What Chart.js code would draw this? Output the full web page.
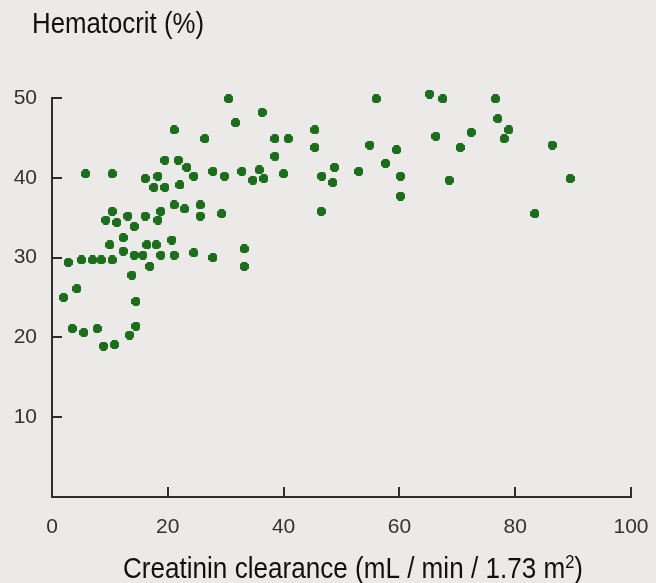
<!DOCTYPE html>
<html>
<head>
<meta charset="utf-8">
<script src="https://cdn.jsdelivr.net/npm/chart.js@4.4.1/dist/chart.umd.min.js"></script>
<style>
  html, body { margin: 0; padding: 0; background: #ece9e9; }
  #wrap { width: 656px; height: 583px; position: relative; }
</style>
</head>
<body>
<div id="wrap"><canvas id="chart"></canvas></div>
<script>
// creatinin clearance (mL/min/1.73 m2)
const clearance = [
    38.1, 30.5, 36.3, 31.7, 21.1, 26.4, 38.5, 40.8, 38.5, 19.5,
    21.8, 23.3, 24.5, 27.8, 29.8, 32.8, 35.8, 34.7, 36.6, 40.0,
    5.8, 10.4, 16.1, 18.3, 17.6, 19.5, 22.1, 21.1, 22.9, 25.6,
    25.6, 29.3, 10.4, 9.3, 11.2, 13.1, 16.1, 18.8, 18.3, 14.2,
    12.3, 10.0, 12.3, 16.4, 18.0, 20.7, 14.2, 15.7, 18.8, 21.1,
    24.5, 27.8, 33.2, 33.2, 16.9, 13.8, 2.8, 5.1, 7.0, 8.5,
    10.4, 4.3, 2.0, 14.5, 3.5, 5.5, 7.8, 14.5, 13.4, 8.9,
    10.8, 56.0, 65.2, 67.5, 76.6, 86.4, 45.4, 45.4, 77.0, 78.9,
    78.1, 72.4, 66.3, 70.5, 54.9, 59.5, 57.6, 86.4, 48.8, 46.6,
    48.5, 53.0, 60.2, 60.2, 68.6, 89.5, 83.4, 46.5
];
// hematocrit (%)
const hematocrit = [
    51.0, 49.9, 48.2, 46.9, 46.0, 44.9, 44.9, 44.9, 42.7, 42.2,
    42.2, 41.3, 40.2, 40.8, 40.2, 40.8, 41.0, 39.7, 39.9, 40.5,
    40.5, 40.5, 39.9, 40.2, 38.8, 38.8, 39.1, 36.6, 36.1, 36.6,
    35.2, 35.5, 35.8, 34.7, 34.4, 35.2, 35.2, 35.8, 34.7, 33.9,
    32.5, 31.6, 30.8, 31.6, 31.6, 32.2, 30.3, 30.3, 30.3, 30.3,
    30.6, 30.0, 31.1, 28.9, 28.9, 27.8, 29.4, 29.7, 29.7, 29.7,
    29.7, 26.1, 25.0, 24.5, 21.1, 20.6, 21.1, 21.4, 20.3, 18.9,
    19.1, 49.9, 50.5, 49.9, 49.9, 51.0, 46.0, 43.8, 47.4, 46.0,
    44.9, 45.7, 45.2, 43.8, 44.1, 43.5, 41.8, 44.1, 41.3, 40.2,
    39.4, 40.8, 40.2, 37.7, 39.7, 39.9, 35.5, 35.8
];
const xTicks = [0, 20, 40, 60, 80, 100];
const yTicks = [10, 20, 30, 40, 50];

const yTitle = 'Hematocrit (%)';
const xTitle = 'Creatinin clearance (mL / min / 1.73 m';

const axisColor = '#2e2e2e';
const textColor = '#333333';
const dotColor = '#1c6d1c';

// 点的形状：粗十字
function makeDot() {
    const c = document.createElement('canvas');
    c.width = 9;
    c.height = 9;
    const g = c.getContext('2d');
    g.fillStyle = dotColor;
    g.fillRect(2, 0, 5, 9);
    g.fillRect(0, 2, 9, 5);
    g.fillRect(1, 1, 7, 7);
    return c;
}

const points = clearance.map((v, i) => ({ x: v, y: hematocrit[i] }));

// 向内的刻度线
const innerTicks = {
    id: 'innerTicks',
    afterDatasetsDraw(chart) {
        const ctx = chart.ctx;
        const xs = chart.scales.x, ys = chart.scales.y;
        const area = chart.chartArea;
        ctx.save();
        ctx.strokeStyle = axisColor;
        ctx.lineWidth = 2;
        ctx.beginPath();
        xTicks.forEach(v => {
            if (v === 0) return;
            const px = Math.round(xs.getPixelForValue(v));
            ctx.moveTo(px, area.bottom);
            ctx.lineTo(px, area.bottom - 10);
        });
        yTicks.forEach(v => {
            const py = Math.round(ys.getPixelForValue(v));
            ctx.moveTo(area.left, py);
            ctx.lineTo(area.left + 10, py);
        });
        ctx.stroke();
        ctx.restore();
    }
};

// 轴标题
function drawStretched(ctx, parts, x, baseline, targetWidth) {
    let total = 0;
    parts.forEach(p => {
        ctx.font = p.font;
        p.w = ctx.measureText(p.text).width;
        total += p.w;
    });
    const k = targetWidth / total;
    ctx.save();
    ctx.translate(x, baseline);
    ctx.scale(k, 1);
    let cx = 0;
    parts.forEach(p => {
        ctx.font = p.font;
        ctx.fillText(p.text, cx, p.dy || 0);
        cx += p.w;
    });
    ctx.restore();
}

const axisTitles = {
    id: 'axisTitles',
    afterDraw(chart) {
        const ctx = chart.ctx;
        const big = '30px "Liberation Sans Narrow", "Liberation Sans", Arial, sans-serif';
        const small = '19px "Liberation Sans Narrow", "Liberation Sans", Arial, sans-serif';
        ctx.save();
        ctx.fillStyle = '#111111';
        ctx.textBaseline = 'alphabetic';
        ctx.textAlign = 'left';
        drawStretched(ctx, [{ text: yTitle, font: big }], 32, 33, 172);
        drawStretched(ctx, [
            { text: xTitle, font: big },
            { text: '2', font: small, dy: -10 },
            { text: ')', font: big }
        ], 123, 578, 460);
        ctx.restore();
    }
};

const ctx = document.getElementById('chart').getContext('2d');
new Chart(ctx, {
    type: 'scatter',
    data: {
        datasets: [{
            data: points,
            pointStyle: makeDot(),
            pointRadius: 4.5,
            pointHoverRadius: 4.5,
            clip: false
        }]
    },
    options: {
        responsive: true,
        maintainAspectRatio: false,
        animation: false,
        events: [],
        layout: {
            padding: { top: 98, right: 25, left: 0, bottom: 0 }
        },
        plugins: {
            legend: { display: false },
            tooltip: { enabled: false }
        },
        scales: {
            x: {
                type: 'linear',
                min: 0,
                max: 100,
                afterFit: s => { s.height = 86; s.paddingLeft = 0; s.paddingRight = 0; },
                afterBuildTicks: s => { s.ticks = xTicks.map(v => ({ value: v })); },
                grid: { display: false, drawTicks: false },
                border: { display: true, color: axisColor, width: 2 },
                ticks: {
                    color: textColor,
                    padding: 18,
                    font: { family: '"Liberation Sans", Arial, sans-serif', size: 21 },
                    maxRotation: 0
                }
            },
            y: {
                type: 'linear',
                min: 0,
                max: 50,
                afterFit: s => { s.width = 52; s.paddingTop = 0; s.paddingBottom = 0; },
                afterBuildTicks: s => { s.ticks = yTicks.map(v => ({ value: v })); },
                grid: { display: false, drawTicks: false },
                border: { display: true, color: axisColor, width: 2 },
                ticks: {
                    color: textColor,
                    padding: 15,
                    font: { family: '"Liberation Sans", Arial, sans-serif', size: 21 }
                }
            }
        }
    },
    plugins: [innerTicks, axisTitles]
});
</script>
</body>
</html>
